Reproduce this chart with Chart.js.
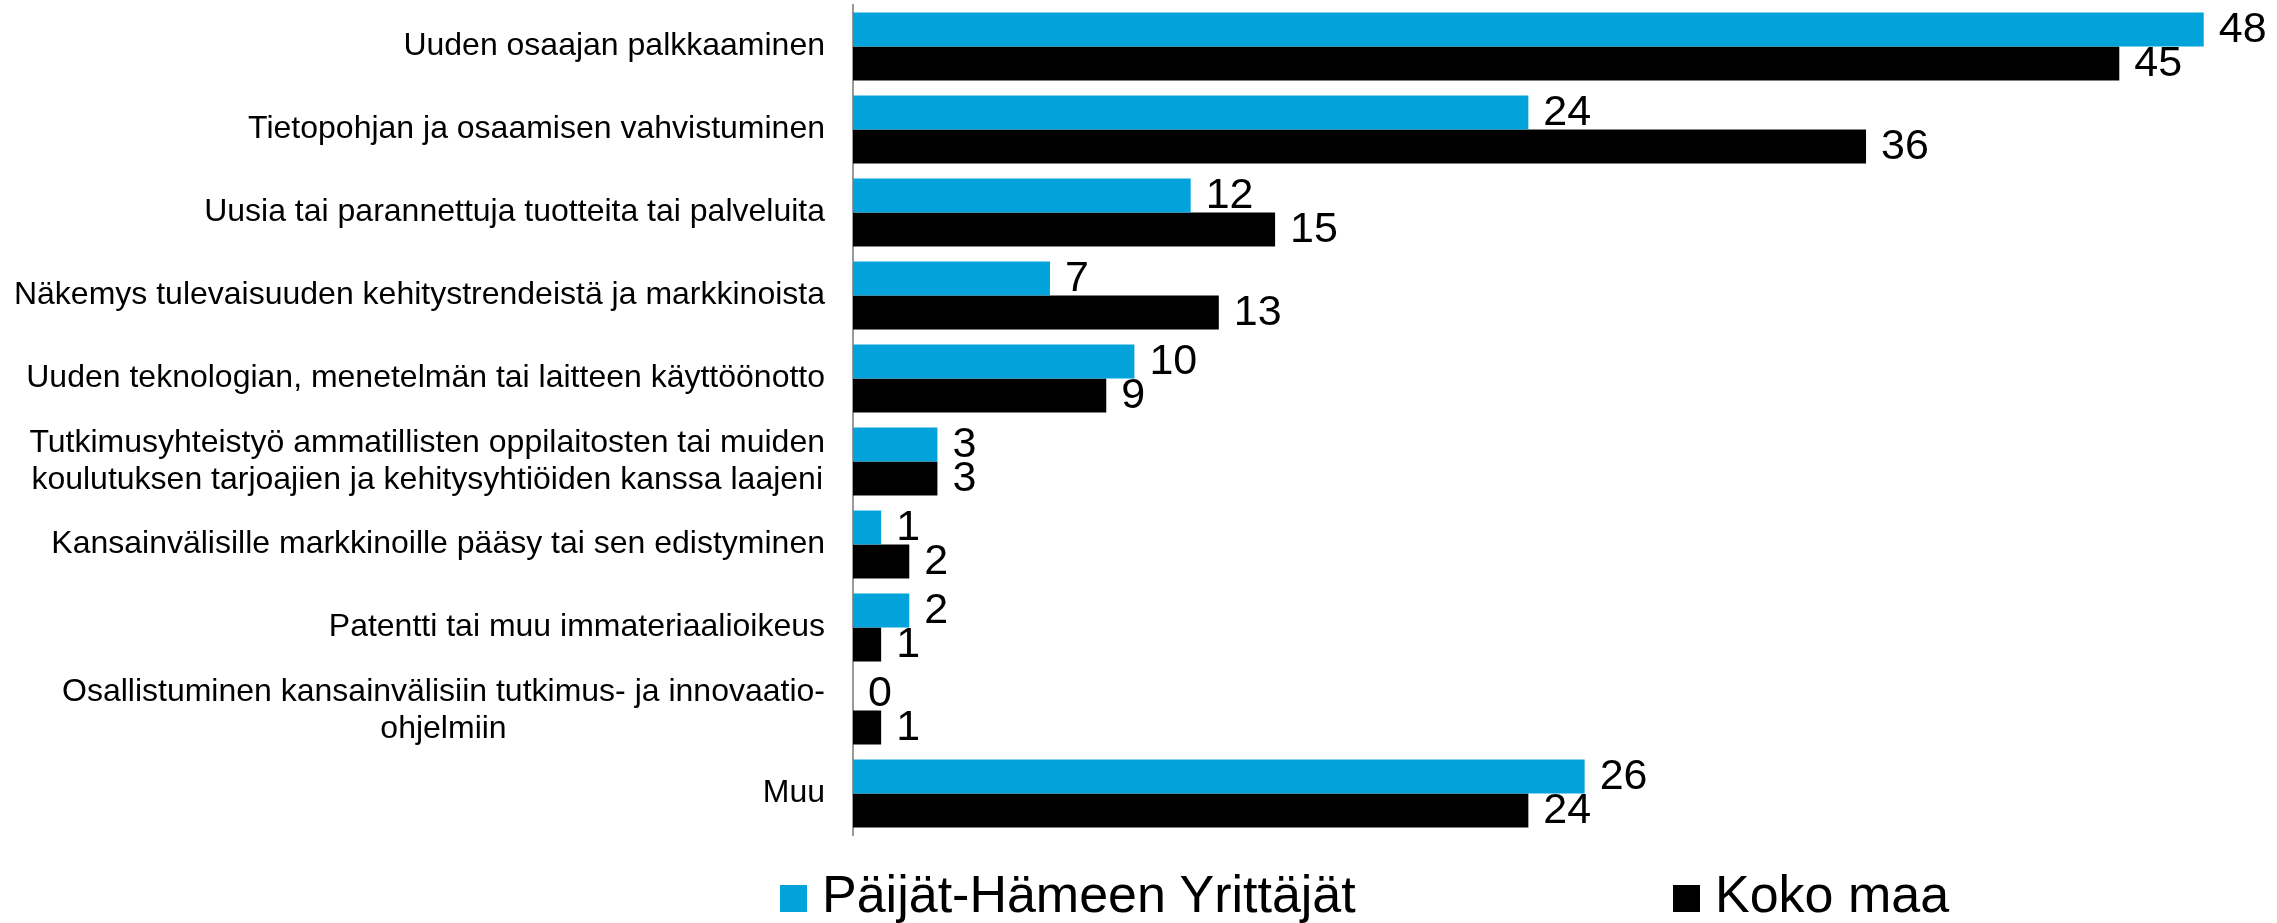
<!DOCTYPE html>
<html>
<head>
<meta charset="utf-8">
<script src="https://cdn.jsdelivr.net/npm/chart.js@4.4.1/dist/chart.umd.min.js"></script>
<style>
  body { margin: 0; background: #fff; }
  #wrap { position: relative; width: 2277px; height: 923px; }
  #legend { position: absolute; top: 868px; left: 0; width: 2277px; height: 55px;
    font-family: 'Liberation Sans', Arial, sans-serif; font-size: 52px; line-height: 52px; color: #000; }
  .item { position: absolute; top: 0; white-space: nowrap; }
  .box { display: inline-block; width: 27px; height: 27px; margin-right: 15px; }
</style>
</head>
<body>
<div id="wrap">
  <canvas id="bars"></canvas>
  <div id="legend"></div>
</div>
<script>
// categories (two-line ones are split into arrays)
const categories = [
  "Uuden osaajan palkkaaminen",
  "Tietopohjan ja osaamisen vahvistuminen",
  "Uusia tai parannettuja tuotteita tai palveluita",
  "Näkemys tulevaisuuden kehitystrendeistä ja markkinoista",
  "Uuden teknologian, menetelmän tai laitteen käyttöönotto",
  ["Tutkimusyhteistyö ammatillisten oppilaitosten tai muiden", "koulutuksen tarjoajien ja kehitysyhtiöiden kanssa laajeni"],
  "Kansainvälisille markkinoille pääsy tai sen edistyminen",
  "Patentti tai muu immateriaalioikeus",
  ["Osallistuminen kansainvälisiin tutkimus- ja innovaatio-", "ohjelmiin"],
  "Muu"
];
const seriesNames = ["Päijät-Hämeen Yrittäjät", "Koko maa"];
const paijatHame = [48, 24, 12, 7, 10, 3, 1, 2, 0, 26];
const kokoMaa = [45, 36, 15, 13, 9, 3, 2, 1, 1, 24];
const colors = ['#02A3DA', '#000000'];

const FONT = "'Liberation Sans', Arial, sans-serif";

// values at the bar ends + category labels on the left
const labelPlugin = {
  id: 'labels',
  afterDatasetsDraw(chart) {
    const ctx = chart.ctx;
    ctx.save();
    ctx.fillStyle = '#000';
    ctx.font = '43px ' + FONT;
    ctx.textAlign = 'left';
    ctx.textBaseline = 'middle';
    chart.data.datasets.forEach((ds, i) => {
      chart.getDatasetMeta(i).data.forEach((bar, j) => {
        ctx.fillText(ds.data[j], bar.x + 15, bar.y + 1);
      });
    });

    const yScale = chart.scales.y;
    const right = yScale.right - 28;
    const lineH = 37;
    ctx.font = '32px ' + FONT;
    ctx.textAlign = 'center';
    categories.forEach((cat, j) => {
      const lines = Array.isArray(cat) ? cat : [cat];
      const widest = Math.max(...lines.map(l => ctx.measureText(l).width));
      const cy = yScale.getPixelForValue(j);
      const y0 = cy - (lines.length - 1) * lineH / 2;
      lines.forEach((l, k) => ctx.fillText(l, right - widest / 2, y0 + k * lineH));
    });
    ctx.restore();
  }
};

const barsCanvas = document.getElementById('bars');
const barsChart = new Chart(barsCanvas, {
  type: 'bar',
  data: {
    labels: categories,
    datasets: [
      { label: seriesNames[0], data: paijatHame, backgroundColor: colors[0], borderWidth: 0 },
      { label: seriesNames[1], data: kokoMaa, backgroundColor: colors[1], borderWidth: 0 }
    ]
  },
  options: {
    indexAxis: 'y',
    responsive: true,
    maintainAspectRatio: false,
    animation: false,
    categoryPercentage: 0.82,
    barPercentage: 1,
    layout: { padding: { top: 5, bottom: 88, right: 17, left: 0 } },
    scales: {
      x: { display: false, min: 0, max: 50 },
      y: {
        grid: { display: false, drawTicks: false },
        border: { display: true, color: '#9a9a9a', width: 2 },
        ticks: { display: false },
        afterFit(scale) { scale.width = 853; }
      }
    },
    plugins: {
      legend: { display: false },
      tooltip: { enabled: false }
    }
  },
  plugins: [labelPlugin]
});

// legend under the plot
const legend = document.getElementById('legend');
const legendLeft = [780, 1673];
seriesNames.forEach((name, i) => {
  const item = document.createElement('div');
  item.className = 'item';
  item.style.left = legendLeft[i] + 'px';
  item.innerHTML = `<span class="box" style="background:${colors[i]}"></span>${name}`;
  legend.appendChild(item);
});
</script>
</body>
</html>
